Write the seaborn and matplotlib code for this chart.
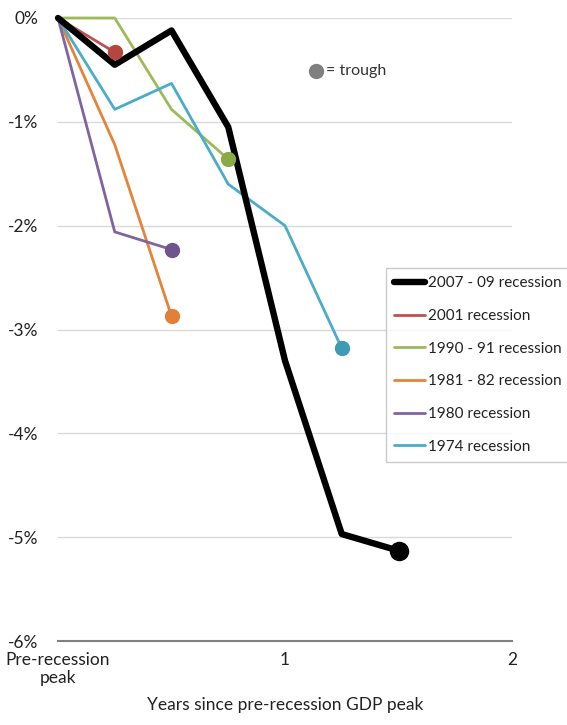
import matplotlib
matplotlib.use("Agg")
import matplotlib.pyplot as plt
import seaborn as sns
import pandas as pd

quarters_0709 = [0, 0.25, 0.5, 0.75, 1.0, 1.25, 1.5]
vals_0709 = [0, -0.45, -0.12, -1.05, -3.30, -4.97, -5.13]
quarters_2001 = [0, 0.25]
vals_2001 = [0, -0.33]
quarters_1990 = [0, 0.25, 0.5, 0.75]
vals_1990 = [0, 0.0, -0.88, -1.36]
quarters_1981 = [0, 0.25, 0.5]
vals_1981 = [0, -1.22, -2.87]
quarters_1980 = [0, 0.25, 0.5]
vals_1980 = [0, -2.06, -2.23]
quarters_1974 = [0, 0.25, 0.5, 0.75, 1.0, 1.25]
vals_1974 = [0, -0.88, -0.63, -1.60, -2.00, -3.18]

labels = ["2007 - 09 recession", "2001 recession", "1990 - 91 recession",
          "1981 - 82 recession", "1980 recession", "1974 recession"]
colors = ["#000000", "#C0504D", "#9BBB59", "#E5833A", "#8064A2", "#4BACC6"]
marker_colors = ["#000000", "#B5453F", "#8AAA48", "#E0803A", "#6E5590", "#3E9AB5"]
series = [(quarters_0709, vals_0709), (quarters_2001, vals_2001), (quarters_1990, vals_1990),
          (quarters_1981, vals_1981), (quarters_1980, vals_1980), (quarters_1974, vals_1974)]
widths = [4.6, 2.0, 2.0, 2.0, 2.0, 2.0]
msizes = [13, 10, 10, 10, 10, 10]

yticks = [0, -1, -2, -3, -4, -5, -6]
ytick_labels = ["0%", "-1%", "-2%", "-3%", "-4%", "-5%", "-6%"]
xticks = [0, 1, 2]
xtick_labels = ["Pre-recession\npeak", "1", "2"]

sns.set_style("white")
plt.rcParams['font.family'] = ['Lato', 'DejaVu Sans']

fig = plt.figure(figsize=(5.67, 7.25), dpi=100)
ax = fig.add_axes([58/567, 1-641/725, (512-58)/567, (641-18)/725])

for (xs, ys), lab, c, w in zip(series, labels, colors, widths):
    df = pd.DataFrame({"x": xs, "y": ys})
    sns.lineplot(data=df, x="x", y="y", ax=ax, color=c, linewidth=w, label=lab,
                 clip_on=False, zorder=3 if c != "#000000" else 4)

for (xs, ys), mc, ms, c in zip(series, marker_colors, msizes, colors):
    ax.plot([xs[-1]], [ys[-1]], 'o', color=mc, markersize=ms, clip_on=False,
            zorder=5)

ax.set_xlim(0, 2)
ax.set_ylim(-6, 0)
for yv in yticks[:-1]:
    ax.axhline(yv, color="#D9D9D9", linewidth=1.0, zorder=1)
ax.set_yticks(yticks)
ax.set_yticklabels(ytick_labels, fontsize=12.5, color="#222222")
ax.set_xticks(xticks)
ax.set_xticklabels(xtick_labels, fontsize=12.5, color="#222222", linespacing=1.15)
ax.tick_params(axis='y', length=0, pad=14)
ax.tick_params(axis='x', direction='in', length=5, color="#808080", width=1.2, pad=8)
for s in ["top", "right", "left"]:
    ax.spines[s].set_visible(False)
ax.spines["bottom"].set_color("#808080")
ax.spines["bottom"].set_linewidth(1.5)
ax.set_xlabel("Years since pre-recession GDP peak", fontsize=12.5, labelpad=8, color="#222222")
ax.set_ylabel("")

# trough key
ax.plot([1.135], [-0.51], 'o', color="#7F7F7F", markersize=10, clip_on=False)
ax.text(1.18, -0.51, "= trough", fontsize=11.5, va="center", ha="left", color="#333333")

leg = ax.legend(loc="upper left", bbox_to_anchor=(386/567, 1-268/725),
                bbox_transform=fig.transFigure, fontsize=11, frameon=True,
                fancybox=False, edgecolor="#BFBFBF", handlelength=2.0,
                handletextpad=0.2, borderpad=0.55, labelspacing=1.22,
                borderaxespad=0)
leg.get_frame().set_linewidth(1.0)
for t in leg.get_texts():
    t.set_color("#222222")

fig.savefig("out.png", dpi=100)
